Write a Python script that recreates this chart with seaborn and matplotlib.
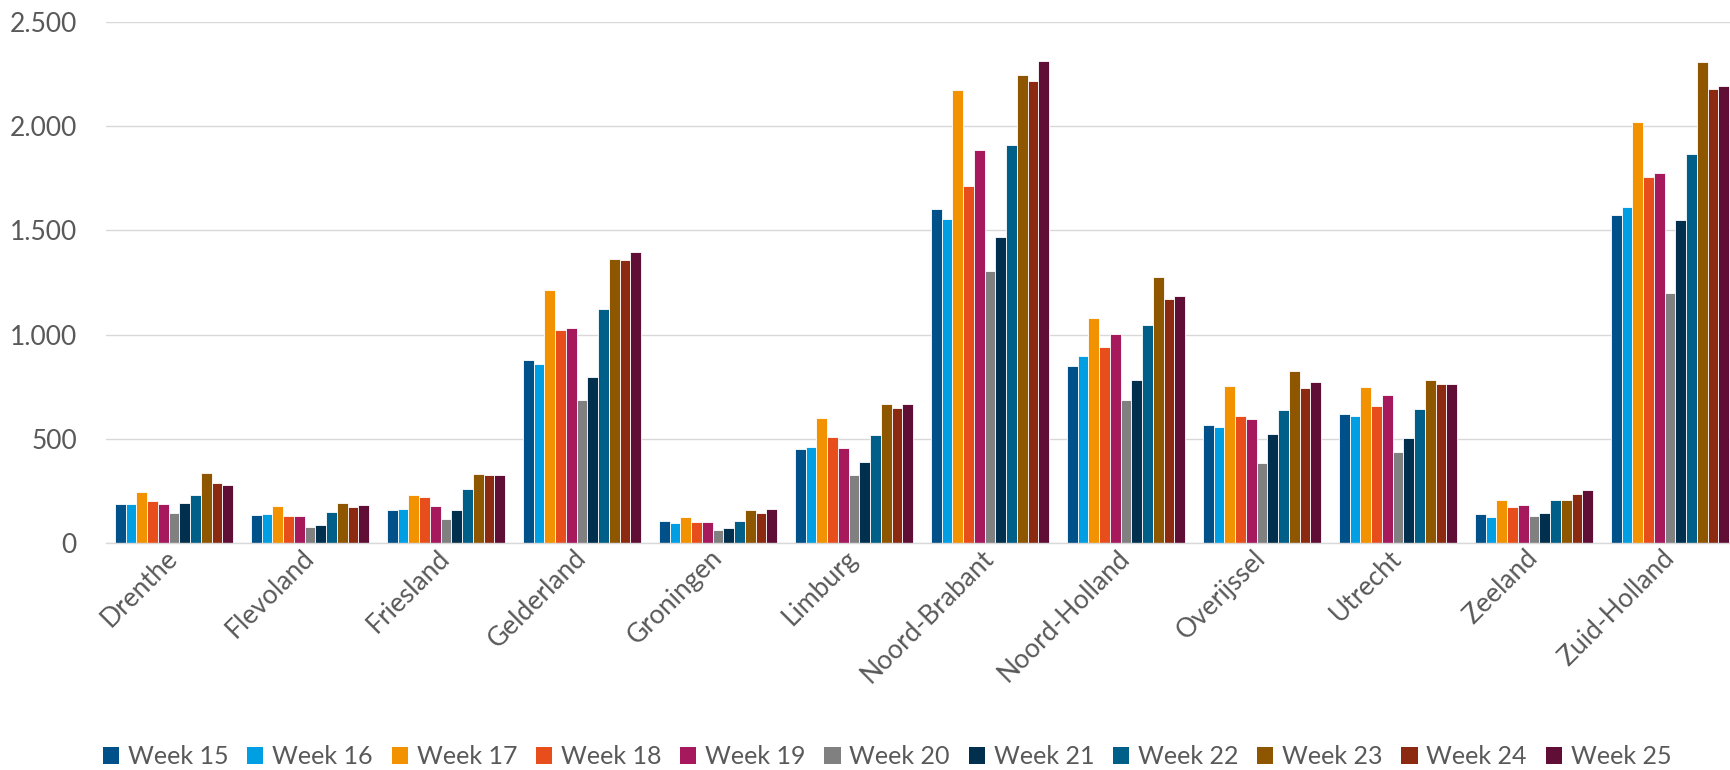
import matplotlib

matplotlib.use("Agg")
import matplotlib.pyplot as plt
import matplotlib.ticker as mticker
from matplotlib.patches import Patch
import pandas as pd
import seaborn as sns

provinces = [
    "Drenthe", "Flevoland", "Friesland", "Gelderland", "Groningen", "Limburg",
    "Noord-Brabant", "Noord-Holland", "Overijssel", "Utrecht", "Zeeland", "Zuid-Holland",
]
weeks = [f"Week {w}" for w in range(15, 26)]

# waarden per week, in volgorde van provinces
week15 = [189, 133, 157, 879, 106, 449, 1605, 851, 567, 617, 140, 1573]
week16 = [189, 138, 162, 858, 96, 463, 1553, 895, 556, 609, 125, 1613]
week17 = [243, 177, 230, 1216, 125, 601, 2176, 1080, 752, 748, 205, 2019]
week18 = [202, 131, 222, 1024, 101, 511, 1712, 939, 609, 655, 174, 1757]
week19 = [188, 128, 179, 1034, 101, 457, 1887, 1003, 593, 711, 182, 1776]
week20 = [143, 75, 114, 685, 62, 326, 1307, 685, 385, 438, 131, 1198]
week21 = [193, 88, 159, 797, 73, 391, 1468, 780, 522, 503, 143, 1551]
week22 = [229, 149, 260, 1123, 106, 516, 1909, 1046, 639, 645, 208, 1866]
week23 = [334, 192, 330, 1363, 159, 669, 2244, 1276, 827, 784, 208, 2308]
week24 = [289, 174, 325, 1359, 144, 650, 2219, 1169, 743, 765, 237, 2177]
week25 = [276, 183, 328, 1395, 164, 665, 2313, 1187, 773, 765, 252, 2193]
series = [week15, week16, week17, week18, week19, week20,
          week21, week22, week23, week24, week25]

colors = ["#00508a", "#009fe3", "#f39200", "#e84e1b", "#a6195c", "#808080",
          "#00304e", "#005f88", "#8f5600", "#8b2a10", "#600e36"]

rows = []
for week, values in zip(weeks, series):
    for prov, v in zip(provinces, values):
        rows.append({"provincie": prov, "week": week, "aantal": v})
df = pd.DataFrame(rows)

sns.set_style("white")
plt.rcParams["font.family"] = ["Lato", "DejaVu Sans"]
text_color = "#595959"
grid_color = "#d9d9d9"

fig = plt.figure(figsize=(17.3, 7.7), dpi=100)
ax = fig.add_axes([106 / 1730, 227 / 770, 1632 / 1730, 521 / 770])

sns.barplot(
    data=df,
    x="provincie",
    y="aantal",
    hue="week",
    order=provinces,
    hue_order=weeks,
    palette=colors,
    saturation=1,
    width=0.87,
    edgecolor="white",
    linewidth=0.6,
    legend=False,
    ax=ax,
)

ax.set_xlim(-0.5, len(provinces) - 0.5)
ax.set_ylim(0, 2500)
ax.yaxis.set_major_locator(mticker.MultipleLocator(500))
ax.yaxis.set_major_formatter(
    mticker.FuncFormatter(lambda v, _: f"{int(v):,}".replace(",", "."))
)
ax.grid(axis="y", color=grid_color, linewidth=1.0)
ax.set_axisbelow(True)
for side in ["top", "right", "left"]:
    ax.spines[side].set_visible(False)
ax.spines["bottom"].set_color(grid_color)
ax.spines["bottom"].set_linewidth(1.0)
ax.set_xlabel("")
ax.set_ylabel("")
ax.tick_params(axis="y", length=0, pad=21, labelsize=19, labelcolor=text_color)
ax.tick_params(axis="x", length=0, pad=8, labelsize=19, labelcolor=text_color)
for lab in ax.get_xticklabels():
    lab.set_rotation(45)
    lab.set_ha("right")
    lab.set_va("center")
    lab.set_rotation_mode("anchor")

handles = [Patch(facecolor=c, edgecolor="none", label=w) for c, w in zip(colors, weeks)]
fig.legend(
    handles=handles,
    loc="center",
    bbox_to_anchor=(887 / 1730, 1 - 757 / 770),
    ncol=len(weeks),
    frameon=False,
    fontsize=18,
    labelcolor=text_color,
    handlelength=0.65,
    handleheight=0.65,
    handletextpad=0.35,
    columnspacing=0.75,
)

fig.savefig("out.png", dpi=100, facecolor="white")
